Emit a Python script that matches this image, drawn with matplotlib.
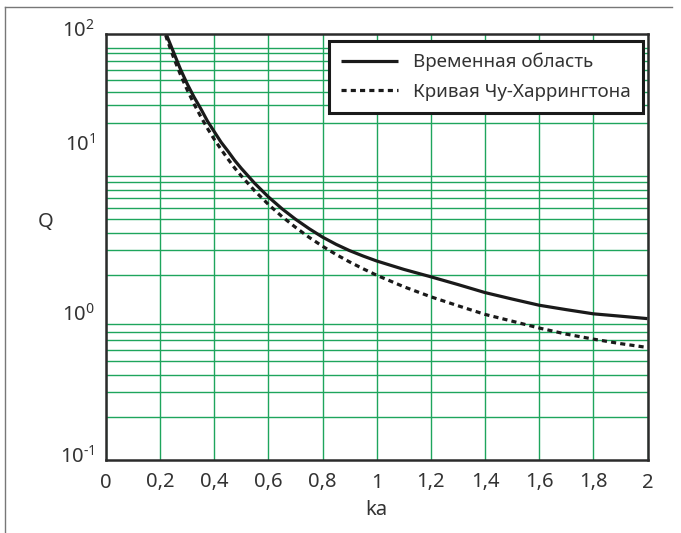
import matplotlib
matplotlib.use("Agg")
import matplotlib.pyplot as plt
from matplotlib.lines import Line2D
from matplotlib.ticker import FixedLocator, NullFormatter
from matplotlib.transforms import ScaledTranslation

plt.rcParams['font.family'] = ['Noto Sans', 'DejaVu Sans']

# values
ka_time = [0.215, 0.225, 0.25, 0.275, 0.3, 0.325, 0.35, 0.375, 0.4, 0.425, 0.45,
           0.475, 0.5, 0.55, 0.6, 0.65, 0.7, 0.75, 0.8, 0.85, 0.9, 0.95,
           1.0, 1.1, 1.2, 1.3, 1.4, 1.5, 1.6, 1.7, 1.8, 1.9, 2.0]
q_time = [113, 97, 74, 56.5, 44.5, 36.0, 29.8, 24.3, 20.5, 17.3, 15.0,
          12.9, 11.3, 8.85, 7.12, 5.88, 4.96, 4.26, 3.71, 3.30, 2.98, 2.73,
          2.52, 2.2, 1.95, 1.72, 1.51, 1.36, 1.23, 1.145, 1.07, 1.03, 0.99]

ka_chu = [0.21, 0.225, 0.25, 0.275, 0.3, 0.325, 0.35, 0.375, 0.4, 0.425, 0.45,
          0.475, 0.5, 0.55, 0.6, 0.65, 0.7, 0.75, 0.8, 0.85, 0.9, 0.95,
          1.0, 1.1, 1.2, 1.3, 1.4, 1.5, 1.6, 1.7, 1.8, 1.9, 2.0]
q_chu = [113, 92, 68, 51.7, 40.4, 32.2, 26.2, 21.6, 18.1, 15.4, 13.2,
         11.4, 10.0, 7.83, 6.3, 5.18, 4.35, 3.7, 3.2, 2.8, 2.48, 2.22,
         2.0, 1.66, 1.41, 1.22, 1.06, 0.95, 0.85, 0.77, 0.71, 0.66, 0.62]

labels = ["Временная область", "Кривая Чу-Харрингтона"]

xtick_vals = [0, 0.2, 0.4, 0.6, 0.8, 1.0, 1.2, 1.4, 1.6, 1.8, 2.0]
xtick_labels = ["0", "0,2", "0,4", "0,6", "0,8", "1", "1,2", "1,4", "1,6", "1,8", "2"]
ytick_vals = [0.1, 1, 15.8, 100]
ytick_labels = ["$\\mathregular{10^{\u20101}}$", r"$\mathregular{10^{0}}$",
                r"$\mathregular{10^{1}}$", r"$\mathregular{10^{2}}$"]
# horizontal grid lines as drawn in the original (top decade is shifted)
ygrid_vals = [0.2, 0.3, 0.4, 0.5, 0.6, 0.7, 0.8, 0.9,
              1, 2, 3, 4, 5, 6, 7, 8, 9, 10,
              15.8, 23.7, 31.5, 39.1, 47.3, 55.4, 64.4, 73, 80]

green = "#1ea55c"
ink = "#1a1a1a"
txt = "#333333"

fig = plt.figure(figsize=(6.81, 5.33), dpi=100)
ax = fig.add_axes([106 / 681, 73 / 533, 541.5 / 681, 426 / 533])

ax.set_yscale("log")
ax.set_xlim(0, 2)
ax.set_ylim(0.1, 100)

ax.set_xticks(xtick_vals)
ax.set_xticklabels(xtick_labels)
ax.set_yticks(ytick_vals)
ax.set_yticklabels(ytick_labels)
ax.yaxis.set_minor_locator(FixedLocator(ygrid_vals))
ax.yaxis.set_minor_formatter(NullFormatter())

ax.grid(False)
ax.grid(True, axis="x", which="major", color=green, lw=1.0)
ax.grid(True, axis="y", which="minor", color=green, lw=1.0)
ax.set_axisbelow(True)

ax.tick_params(axis="both", which="both", length=0, labelsize=14.5, labelcolor=txt)
ax.tick_params(axis="x", pad=9)
ax.tick_params(axis="y", pad=8)
for lab in ax.get_yticklabels():
    lab.set_transform(lab.get_transform() + ScaledTranslation(0, 4 / 72, fig.dpi_scale_trans))

for s in ax.spines.values():
    s.set_color("#2b2b2b")
    s.set_linewidth(1.8)

ax.plot(ka_time, q_time, color=ink, lw=2.3, label=labels[0], solid_capstyle="butt")
ax.plot(ka_chu, q_chu, color=ink, lw=2.3, ls=(0, (1.6, 1.3)), label=labels[1])

leg = ax.legend(loc="upper right", bbox_to_anchor=(0.991, 0.984), borderaxespad=0,
                fontsize=13.5, fancybox=False, framealpha=1, edgecolor="#1a1a1a",
                handlelength=3.0, handletextpad=0.8, labelspacing=0.6,
                borderpad=0.65)
leg.get_frame().set_linewidth(2.2)
for t in leg.get_texts():
    t.set_color(txt)

fig.text(376.5 / 681, 1 - 510 / 533, "ka", ha="center", va="center",
         fontsize=14.5, color=txt)
fig.text(46 / 681, 1 - 222 / 533, "Q", ha="center", va="center",
         fontsize=14.5, color=txt)

# partial outer frame (top and left)
fig.add_artist(Line2D([5 / 681, 672 / 681], [1 - 7 / 533, 1 - 7 / 533],
                      transform=fig.transFigure, color="#777777", lw=1.0))
fig.add_artist(Line2D([5 / 681, 5 / 681], [1 - 7 / 533, 0],
                      transform=fig.transFigure, color="#777777", lw=1.0))

fig.savefig("out.png", dpi=100)
